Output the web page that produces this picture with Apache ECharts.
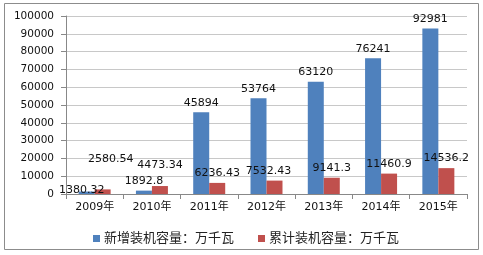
<!DOCTYPE html>
<html><head><meta charset="utf-8">
<script src="https://cdn.jsdelivr.net/npm/echarts@6/dist/echarts.min.js"></script>
<style>html,body{margin:0;padding:0;background:#fff}#c{width:483px;height:255px}</style>
</head><body><div id="c"></div>
<script>
const categories = ['2009年','2010年','2011年','2012年','2013年','2014年','2015年'];
const newCapacity = [1380.32, 1892.8, 45894, 53764, 63120, 76241, 92981];
const totalCapacity = [2580.54, 4473.34, 6236.43, 7532.43, 9141.3, 11460.9, 14536.2];
const seriesNames = ['新增装机容量：万千瓦', '累计装机容量：万千瓦'];
const yTicks = {min: 0, max: 100000, interval: 10000};

// label nudges as they appear in the reference (style only)
const blueLabelOffsets = [[-5, 8], [0, 0], [0, 0], [0, 0], [0, 0], [0, 0], [0, 0]];
const redLabelOffsets = [[8, -21], [0, -11], [0, 0], [-6, 0], [0, 0], [0, 0], [0, 0]];

const FONT = '"DejaVu Sans", "Noto Sans CJK SC", sans-serif';
const chart = echarts.init(document.getElementById('c'), null, {renderer: 'canvas'});
function mk(vals, offs) {
  return vals.map((v, i) => ({value: v, label: {offset: offs[i]}}));
}
chart.setOption({
  animation: false,
  backgroundColor: '#fff',
  color: ['#4F81BD', '#C0504D'],
  graphic: [{
    type: 'rect', shape: {x: 4.5, y: 3.5, width: 474, height: 246},
    style: {fill: 'none', stroke: '#8c8c8c', lineWidth: 1}, silent: true, z: -1
  }],
  grid: {left: 66, right: 16, top: 16, bottom: 61, containLabel: false},
  legend: {
    left: 88, top: 227, itemWidth: 7, itemHeight: 7, itemGap: 24,
    icon: 'rect',
    textStyle: {fontFamily: FONT, fontSize: 13, color: '#222', padding: [0, 0, 0, -1]},
    data: seriesNames
  },
  xAxis: {
    type: 'category', data: categories,
    axisLine: {lineStyle: {color: '#888', width: 1}},
    axisTick: {show: true, length: 5, lineStyle: {color: '#888'}},
    axisLabel: {fontFamily: FONT, fontSize: 11, color: '#111', margin: 8}
  },
  yAxis: {
    type: 'value', min: yTicks.min, max: yTicks.max, interval: yTicks.interval,
    axisLine: {show: true, lineStyle: {color: '#888', width: 1}},
    axisTick: {show: true, length: 5, lineStyle: {color: '#888'}},
    splitLine: {lineStyle: {color: '#c8c8c8', width: 1}},
    axisLabel: {fontFamily: FONT, fontSize: 10.5, color: '#111', margin: 12,
      formatter: v => String(v)}
  },
  series: [
    {
      name: seriesNames[0], type: 'bar', barWidth: 16, barGap: '0%',
      data: mk(newCapacity, blueLabelOffsets),
      label: {show: true, position: 'top', distance: 4, fontFamily: FONT, fontSize: 11, color: '#111'}
    },
    {
      name: seriesNames[1], type: 'bar', barWidth: 16, barGap: '0%',
      data: mk(totalCapacity, redLabelOffsets),
      label: {show: true, position: 'top', distance: 4, fontFamily: FONT, fontSize: 11, color: '#111'}
    }
  ]
});
</script></body></html>
